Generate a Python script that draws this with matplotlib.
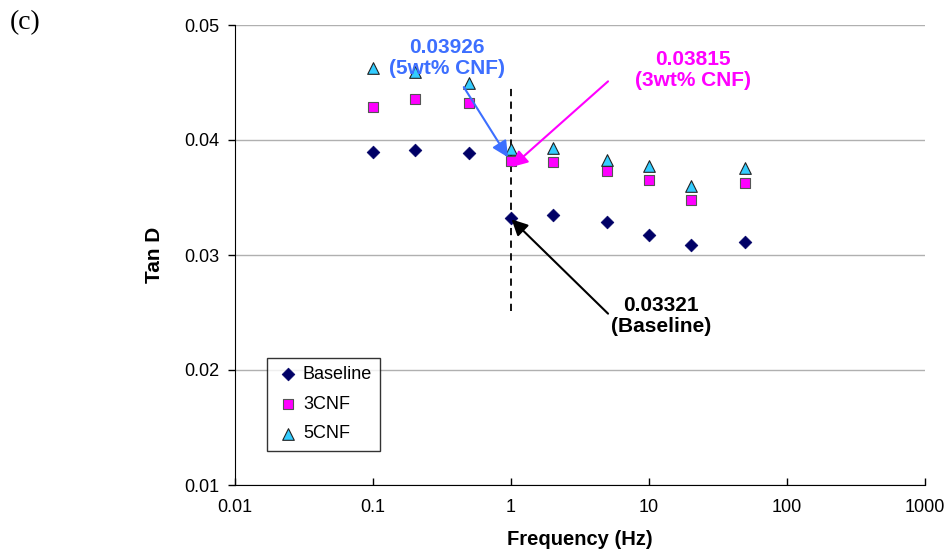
import numpy as np
import matplotlib.pyplot as plt
from matplotlib.ticker import FixedLocator, FixedFormatter, NullLocator

plt.rcParams['font.family'] = ['Liberation Sans', 'DejaVu Sans']

# data
freq = [0.1, 0.2, 0.5, 1, 2, 5, 10, 20, 50]
baseline = [0.0390, 0.0391, 0.0389, 0.03321, 0.0335, 0.0329, 0.0317, 0.0309, 0.0311]
cnf3 = [0.0429, 0.0436, 0.0432, 0.03815, 0.0381, 0.0373, 0.0365, 0.0348, 0.0363]
cnf5 = [0.0463, 0.0459, 0.0450, 0.03926, 0.0393, 0.0383, 0.0377, 0.0360, 0.0376]

xticks = [0.01, 0.1, 1, 10, 100, 1000]
xtick_labels = ['0.01', '0.1', '1', '10', '100', '1000']
yticks = [0.01, 0.02, 0.03, 0.04, 0.05]

fig = plt.figure(figsize=(9.48, 5.56), dpi=100)
ax = fig.add_axes([235 / 948, 1 - 485 / 556, 690 / 948, 460 / 556])

ax.set_xscale('log')
ax.set_xlim(0.01, 1000)
ax.set_ylim(0.01, 0.05)

for y in yticks:
    ax.axhline(y, color='#b0b0b0', lw=1, zorder=0)

ax.scatter(freq, baseline, marker='D', s=42, color='#000066', edgecolors='#000066',
           linewidths=0.5, label='Baseline', zorder=3)
ax.scatter(freq, cnf3, marker='s', s=60, color='#ff00ff', edgecolors='#555555',
           linewidths=0.8, label='3CNF', zorder=3)
ax.scatter(freq, cnf5, marker='^', s=70, color='#33ccff', edgecolors='#222222',
           linewidths=0.8, label='5CNF', zorder=3)

# dashed line at 1 Hz
ax.plot([1, 1], [0.0251, 0.0447], ls=(0, (4, 3)), color='black', lw=1.3, zorder=2)

arrow = dict(arrowstyle='-|>', lw=1.5, mutation_scale=24, shrinkA=0, shrinkB=0)

# annotations
ax.annotate('', xy=(0.95, 0.0385), xytext=(0.455, 0.0446),
            arrowprops=dict(arrow, color='#3d6fff'), zorder=4)
ax.text(0.343, 0.0471, '0.03926\n(5wt% CNF)', color='#3d6fff', fontsize=15,
        fontweight='bold', ha='center', va='center', linespacing=1.15, zorder=4)

ax.annotate('', xy=(1.01, 0.03765), xytext=(5.05, 0.0451),
            arrowprops=dict(arrow, color='#ff00ff'), zorder=4)
ax.text(20.9, 0.0461, '0.03815\n(3wt% CNF)', color='#ff00ff', fontsize=15,
        fontweight='bold', ha='center', va='center', linespacing=1.15)

ax.annotate('', xy=(1.01, 0.0331), xytext=(5.05, 0.0249),
            arrowprops=dict(arrow, color='black'), zorder=4)
ax.text(12.2, 0.0247, '0.03321\n(Baseline)', color='black', fontsize=15,
        fontweight='bold', ha='center', va='center', linespacing=1.15)

ax.xaxis.set_major_locator(FixedLocator(xticks))
ax.xaxis.set_major_formatter(FixedFormatter(xtick_labels))
ax.xaxis.set_minor_locator(NullLocator())
ax.set_yticks(yticks)
ax.set_yticklabels(['%.2f' % y for y in yticks])
ax.tick_params(axis='x', labelsize=13, direction='in', length=5, width=1, pad=10)
ax.tick_params(axis='y', labelsize=13, direction='out', length=5, width=1, pad=6)

for s in ['top', 'right']:
    ax.spines[s].set_visible(False)
for s in ['left', 'bottom']:
    ax.spines[s].set_color('black')

ax.set_xlabel('Frequency (Hz)', fontsize=14.5, fontweight='bold', labelpad=10)
ax.set_ylabel('Tan D', fontsize=15, fontweight='bold', labelpad=15)

leg = ax.legend(loc='upper left', bbox_to_anchor=(0.046, 0.276), fontsize=13,
                frameon=True, fancybox=False, edgecolor='black', handletextpad=0.15,
                handlelength=1.4, borderpad=0.45, labelspacing=0.7, borderaxespad=0)
leg.get_frame().set_linewidth(1)

fig.text(10 / 948, 1 - 23 / 556, '(c)', fontsize=20, family='Liberation Serif',
         va='center')

fig.savefig('out.png', dpi=100)
